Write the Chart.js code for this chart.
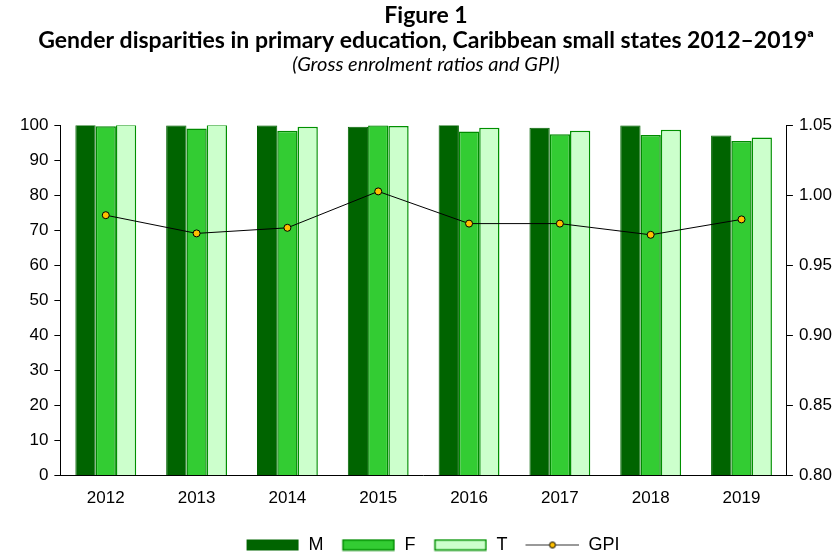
<!DOCTYPE html>
<html lang="en">
<head>
    <meta charset="UTF-8">
    <title>Gender disparities in primary education</title>
    <script src="https://cdn.jsdelivr.net/npm/chart.js"></script>
</head>
<body>
    <style>
        body{ margin: 0; background: #fff; }
        div{ width: 840px; height: 555px; }
    </style>
    <div>
        <canvas id="myChart" width="840" height="555"></canvas>
    </div>

    <script>
        // Data
        const years = ['2012', '2013', '2014', '2015', '2016', '2017', '2018', '2019'];
        const male = [100.2, 100.1, 100.1, 99.7, 100.2, 99.4, 100.1, 97.2];
        const female = [99.8, 99.2, 98.5, 100.1, 98.3, 97.5, 97.3, 95.6];
        const total = [100.3, 100.3, 99.7, 99.9, 99.4, 98.5, 98.8, 96.6];
        const gpi = [0.986, 0.973, 0.977, 1.003, 0.980, 0.980, 0.972, 0.983];

        const colM = '#006400', colF = '#33cc33', colT = '#ccffcc';
        const edgeF = '#008a00', edgeT = '#009000', dotCol = '#ffc000';

        // legend symbols: blank gap on the left, then the 52px sample
        const GAP = 13, ICON_W = GAP + 54;
        function swatch(fill, edge) {
            const c = document.createElement('canvas');
            c.width = ICON_W; c.height = 13;
            const g = c.getContext('2d');
            g.fillStyle = fill;
            g.fillRect(GAP + 1, 1, 52, 11);
            if (edge) {
                g.strokeStyle = edge; g.lineWidth = 1.5;
                g.strokeRect(GAP + 1.5, 1.5, 51, 10);
            }
            return c;
        }
        function lineSwatch() {
            const c = document.createElement('canvas');
            c.width = ICON_W; c.height = 13;
            const g = c.getContext('2d');
            g.strokeStyle = '#333'; g.lineWidth = 1;
            g.beginPath(); g.moveTo(GAP, 6.5); g.lineTo(ICON_W, 6.5); g.stroke();
            g.fillStyle = dotCol; g.strokeStyle = '#000';
            g.beginPath(); g.arc(GAP + 27, 6.5, 3, 0, Math.PI * 2); g.fill(); g.stroke();
            return c;
        }
        const legendIcons = [swatch(colM), swatch(colF, edgeF), swatch(colT, edgeT), lineSwatch()];

        const config = {
            type: 'bar',
            data: {
                labels: years,
                datasets: [
                    { label: 'GPI', type: 'line', data: gpi, yAxisID: 'y1', order: 0,
                      borderColor: '#000', borderWidth: 1, backgroundColor: dotCol,
                      pointBackgroundColor: dotCol, pointBorderColor: '#000', pointBorderWidth: 1,
                      pointRadius: 3.5, tension: 0 },
                    { label: 'M', data: male, backgroundColor: colM, borderColor: colM, borderWidth: 1, order: 1 },
                    { label: 'F', data: female, backgroundColor: colF, borderColor: edgeF, borderWidth: 1.5, order: 1 },
                    { label: 'T', data: total, backgroundColor: colT, borderColor: edgeT, borderWidth: 1.5, order: 1 }
                ]
            },
            options: {
                responsive: false,
                animation: false,
                layout: { padding: { left: 14, right: 2, top: 3, bottom: -9 } },
                datasets: { bar: { barPercentage: 1, categoryPercentage: 0.67 } },
                plugins: {
                    title: {
                        display: true,
                        text: ['Figure 1', 'Gender disparities in primary education, Caribbean small states 2012\u20132019\u1d43'],
                        color: '#000',
                        font: { family: 'Lato', size: 23, weight: 'bold', lineHeight: 1.1 },
                        padding: { top: 0, bottom: 0 }
                    },
                    subtitle: {
                        display: true,
                        text: '(Gross enrolment ratios and GPI)',
                        color: '#000',
                        font: { family: 'Lato', size: 20, style: 'italic', lineHeight: 1.1 },
                        padding: { top: 0, bottom: 50 }
                    },
                    legend: {
                        position: 'bottom',
                        labels: {
                            usePointStyle: true,
                            pointStyleWidth: ICON_W,
                            boxHeight: 13,
                            color: '#000',
                            font: { family: 'Liberation Sans', size: 18 },
                            padding: 5,
                            generateLabels: (chart) => ['M', 'F', 'T', 'GPI'].map((t, i) => ({
                                text: t, pointStyle: legendIcons[i], datasetIndex: [1, 2, 3, 0][i],
                                fontColor: '#000', hidden: false, lineWidth: 0
                            }))
                        }
                    },
                    tooltip: { enabled: false }
                },
                scales: {
                    x: {
                        grid: { display: false },
                        border: { color: '#000', width: 1 },
                        ticks: { color: '#000', font: { family: 'Liberation Sans', size: 17 }, padding: 5 },
                        // extra room between the year labels and the legend
                        afterFit: (s) => { s.height += 17; }
                    },
                    y: {
                        min: 0, max: 100,
                        grid: { drawOnChartArea: false, color: '#000', tickLength: 6 },
                        border: { color: '#000', width: 1 },
                        ticks: { stepSize: 10, color: '#000', font: { family: 'Liberation Sans', size: 17 }, padding: 6 }
                    },
                    y1: {
                        position: 'right',
                        min: 0.8, max: 1.05,
                        grid: { drawOnChartArea: false, color: '#000', tickLength: 6 },
                        border: { color: '#000', width: 1 },
                        ticks: { stepSize: 0.05, color: '#000', font: { family: 'Liberation Sans', size: 17 }, padding: 6,
                                 callback: (v) => v.toFixed(2) }
                    }
                }
            }
        };

        const ctx = document.getElementById('myChart').getContext('2d');
        const myChart = new Chart(ctx, config);
    </script>
</body>
</html>
